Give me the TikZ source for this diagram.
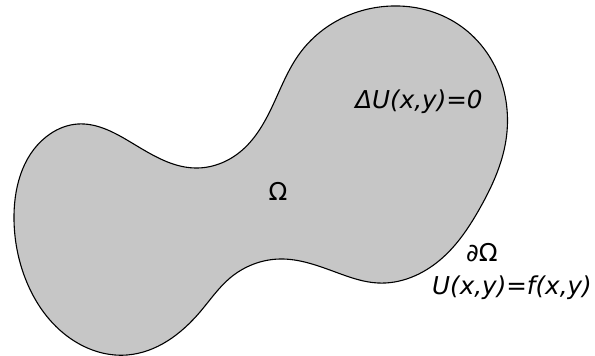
\documentclass[tikz,border=0pt]{standalone}
\usepackage{fontspec}
\setmainfont{DejaVu Sans}
\usetikzlibrary{hobby}
\definecolor{blobgray}{RGB}{198,198,198}
\tikzset{
  lbl/.style={inner sep=0pt, anchor=base, font=\fontsize{24.6}{28}\selectfont},
  blob/.style={fill=blobgray, draw=black, line width=1.1pt}
}
\begin{document}
\begin{tikzpicture}[x=1pt,y=-1pt]
\useasboundingbox (0,0) rectangle (595,356);
\draw[blob, use Hobby shortcut, closed=true]
  (78,124) .. (127,140) .. (195,168) .. (240,152) .. (272,107) .. (300,53)
  .. (392,6) .. (462,27) .. (500,78) .. (506,140) .. (480,208)
  .. (440,260) .. (378,283) .. (338,273) .. (280,259) .. (230,278)
  .. (200,312) .. (127,355) .. (67,336) .. (24,275) .. (14,215)
  .. (50,134);
\node[lbl] (lap) at (419,108) {\itshape ΔU(x,y)=0};
\node[lbl] (om) at (278,200) {Ω};
\node[lbl] (bd) at (482,261) {∂Ω};
\node[lbl] (bc) at (512,294) {\itshape U(x,y)=f(x,y)};
\end{tikzpicture}
\end{document}
